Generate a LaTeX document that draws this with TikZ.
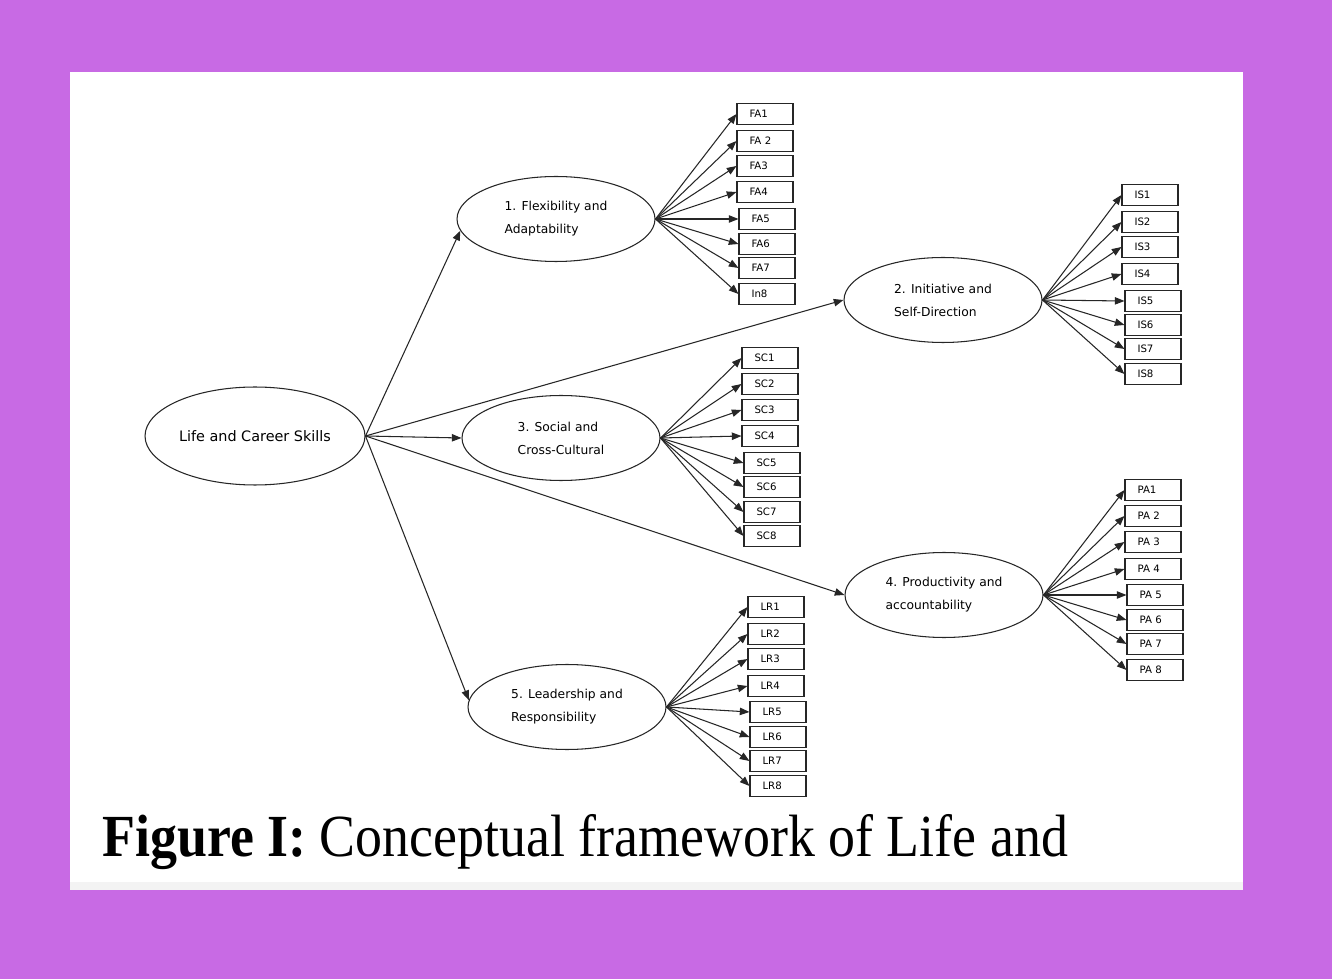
\documentclass[tikz,border=0pt]{standalone}
\usepackage{fontspec}
\setmainfont{Liberation Serif}
\newfontfamily\diagfont{DejaVu Sans}
\usetikzlibrary{arrows.meta}
\usetikzlibrary{shapes.geometric}
\definecolor{pagecolor}{RGB}{200,106,228}
\definecolor{stripcolor}{RGB}{243,243,243}
\newcommand{\pathcolor}{black!85}
\newcommand{\pathwidth}{0.6pt}
\tikzset{
	construct/.style={ellipse, draw=\pathcolor, line width=\pathwidth,
		minimum width=3.96cm, minimum height=1.7cm, inner sep=0pt,
		align=left, font=\diagfont\fontsize{7}{13}\selectfont},
	indicator/.style={draw=\pathcolor, line width=\pathwidth,
		minimum width=1.12cm, minimum height=0.43cm, text width=0.62cm,
		inner xsep=0.25cm, inner ysep=0pt, align=left,
		font=\diagfont\fontsize{5.8}{6}\selectfont},
	path arrow/.style={line width=\pathwidth, \pathcolor,
		-{Triangle[length=5.5pt, width=4.2pt]}},
}

\begin{document}
\begin{tikzpicture}[x=0.02cm, y=-0.02cm]
	\useasboundingbox (0,0) rectangle (1332,979);
	\fill[pagecolor] (0,0) rectangle (1332,979);
	\fill[white] (70,72) rectangle (1243,890);
	\fill[stripcolor] (70,882) rectangle (1243,890);

	% latent constructs
	\node[construct, minimum width=4.4cm, minimum height=1.96cm,
		font=\diagfont\fontsize{8.2}{10}\selectfont] (LCS) at (255,436) {Life and Career Skills};
	\node[construct] (FA) at (556,219) {1. Flexibility and\\Adaptability};
	\node[construct] (IS) at (943,300) {2. Initiative and\\Self-Direction};
	\node[construct] (SC) at (561,438) {3. Social and\\Cross-Cultural};
	\node[construct] (PA) at (944,595) {4. Productivity and\\accountability};
	\node[construct] (LR) at (567,707) {5. Leadership and\\Responsibility};

	\draw[path arrow] (LCS.east) -- (FA.187);
	\draw[path arrow] (LCS.east) -- (IS.west);
	\draw[path arrow] (LCS.east) -- (SC.west);
	\draw[path arrow] (LCS.east) -- (PA.west);
	\draw[path arrow] (LCS.east) -- (LR.176);

	% observed indicators
	\foreach \lab/\x/\y [count=\i] in {FA1/765/114, FA 2/765/141, FA3/765/166, FA4/765/192,
		FA5/767/219, FA6/767/244, FA7/767/268, In8/767/294}
	{
		\node[indicator] (fa\i) at (\x,\y) {\lab};
		\draw[path arrow] (FA.east) -- (fa\i.west);
	}
	\foreach \lab/\x/\y [count=\i] in {IS1/1150/195, IS2/1150/222, IS3/1150/247, IS4/1150/274,
		IS5/1153/301, IS6/1153/325, IS7/1153/349, IS8/1153/374}
	{
		\node[indicator] (is\i) at (\x,\y) {\lab};
		\draw[path arrow] (IS.east) -- (is\i.west);
	}
	\foreach \lab/\x/\y [count=\i] in {SC1/770/358, SC2/770/384, SC3/770/410, SC4/770/436,
		SC5/772/463, SC6/772/487, SC7/772/512, SC8/772/536}
	{
		\node[indicator] (sc\i) at (\x,\y) {\lab};
		\draw[path arrow] (SC.east) -- (sc\i.west);
	}
	\foreach \lab/\x/\y [count=\i] in {PA1/1153/490, PA 2/1153/516, PA 3/1153/542, PA 4/1153/569,
		PA 5/1155/595, PA 6/1155/620, PA 7/1155/644, PA 8/1155/670}
	{
		\node[indicator] (pa\i) at (\x,\y) {\lab};
		\draw[path arrow] (PA.east) -- (pa\i.west);
	}
	\foreach \lab/\x/\y [count=\i] in {LR1/776/607, LR2/776/634, LR3/776/659, LR4/776/686,
		LR5/778/712, LR6/778/737, LR7/778/761, LR8/778/786}
	{
		\node[indicator] (lr\i) at (\x,\y) {\lab};
		\draw[path arrow] (LR.east) -- (lr\i.west);
	}

	% caption
	\node[anchor=base west, inner sep=0pt, font=\fontsize{34}{40}\selectfont]
		(caption) at (102,856)
		{\scalebox{0.902}[1]{\textbf{Figure I:} Conceptual framework of Life and}};
\end{tikzpicture}
\end{document}
